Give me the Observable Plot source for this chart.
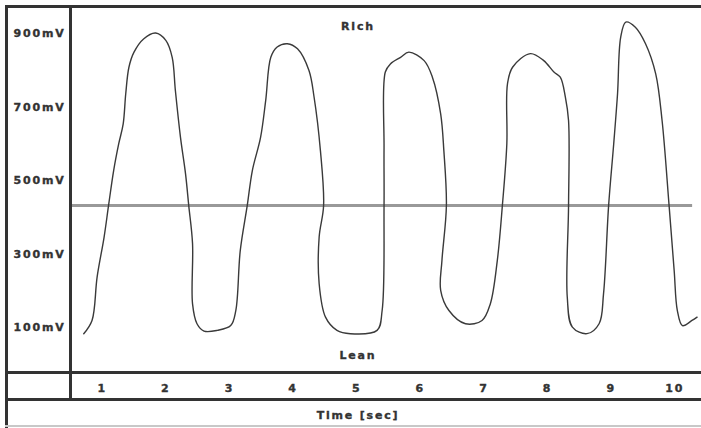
<!DOCTYPE html>
<html>
<head>
<meta charset="utf-8">
<script src="https://cdn.jsdelivr.net/npm/d3@7"></script>
<script src="https://cdn.jsdelivr.net/npm/@observablehq/plot@0.6"></script>
<style>
  html, body { margin: 0; padding: 0; background: #fff; }
  #wrap { position: relative; width: 701px; height: 428px; overflow: hidden; font-family: "DejaVu Sans", sans-serif; }
  #wrap svg { position: absolute; left: 0; top: 0; }
  #wrap svg text { letter-spacing: 1.8px; stroke: #333; stroke-width: 0.35px; }
  .ln { position: absolute; background: #333; }
  #title { position: absolute; top: 409px; left: 0; width: 716px; text-align: center; font: bold 11px "DejaVu Sans", sans-serif; letter-spacing: 1.8px; color: #333; -webkit-text-stroke: 0.35px #333; }
</style>
</head>
<body>
<div id="wrap">
  <div id="chart"></div>
  <div class="ln" style="left:5px;top:5px;width:3px;height:423px;"></div>
  <div class="ln" style="left:5px;top:5px;width:696px;height:3px;"></div>
  <div class="ln" style="left:69px;top:5px;width:3px;height:396px;"></div>
  <div class="ln" style="left:5px;top:371px;width:696px;height:3px;"></div>
  <div class="ln" style="left:5px;top:398px;width:696px;height:3px;"></div>
  <div class="ln" style="left:5px;top:425px;width:696px;height:2px;background:#c8c8c8;"></div>
  <div id="title">Time [sec]</div>
</div>
<script>
// Time (s) and sensor voltage (mV)
const timeSec = [0.71,0.84,0.92,1.03,1.10,1.18,1.26,1.33,1.37,1.42,1.50,1.65,1.84,2.00,2.10,2.15,2.23,2.31,2.36,2.42,2.42,2.49,2.60,2.81,3.02,3.10,3.17,3.28,3.36,3.49,3.57,3.65,3.75,3.91,4.07,4.25,4.33,4.43,4.48,4.41,4.41,4.51,4.69,4.90,5.32,5.40,5.43,5.43,5.45,5.53,5.69,5.82,6.06,6.19,6.32,6.37,6.41,6.34,6.32,6.45,6.71,6.97,7.10,7.21,7.29,7.36,7.37,7.45,7.73,7.94,8.10,8.20,8.28,8.33,8.33,8.31,8.39,8.62,8.81,8.88,8.96,9.04,9.10,9.15,9.23,9.38,9.54,9.70,9.80,9.91,9.99,10.04,10.12,10.27,10.35];
const voltMV  = [84,120,238,347,433,528,601,655,737,809,850,886,902,882,836,746,619,519,433,329,165,111,91,93,106,147,310,433,528,619,719,836,864,873,859,800,728,582,433,347,220,129,93,84,93,147,433,591,796,818,836,850,827,782,682,582,433,283,202,147,111,120,165,283,433,601,764,809,846,827,796,782,728,664,433,183,102,84,111,193,433,601,737,891,932,918,873,791,664,433,256,147,106,120,129];
const yTicks = [100, 300, 500, 700, 900];
const xTicks = [1, 2, 3, 4, 5, 6, 7, 8, 9, 10];
const threshold = [{v: 433, t1: 0.53, t2: 10.28}];
const notes = [{t: 5.02, v: 920, label: "Rich"}, {t: 5.02, v: 25, label: "Lean"}];

const data = timeSec.map((t, i) => ({t, v: voltMV[i]}));

const chart = Plot.plot({
  width: 701,
  height: 428,
  marginTop: 7,
  marginLeft: 70,
  marginRight: 0,
  marginBottom: 55,
  style: {fontFamily: "DejaVu Sans", fontSize: "11px", fontWeight: "bold", color: "#333", background: "transparent"},
  x: {domain: [1, 10], range: [101.7, 674.3]},
  y: {domain: [100, 900], range: [327.3, 33.3]},
  marks: [
    Plot.axisY({ticks: yTicks, tickFormat: d => d + "mV", tickSize: 0, tickPadding: 5, label: null, fill: "#333"}),
    Plot.axisX({ticks: xTicks, tickFormat: d => String(d), tickSize: 0, tickPadding: 11, label: null, fill: "#333"}),
    Plot.ruleY(threshold, {y: "v", x1: "t1", x2: "t2", stroke: "#999", strokeWidth: 3}),
    Plot.line(data, {x: "t", y: "v", curve: "catmull-rom", stroke: "#3a3a3a", strokeWidth: 1.4}),
    Plot.text(notes, {x: "t", y: "v", text: "label", fill: "#333", fontSize: 11, fontWeight: "bold"})
  ]
});
document.getElementById("chart").appendChild(chart);
</script>
</body>
</html>
